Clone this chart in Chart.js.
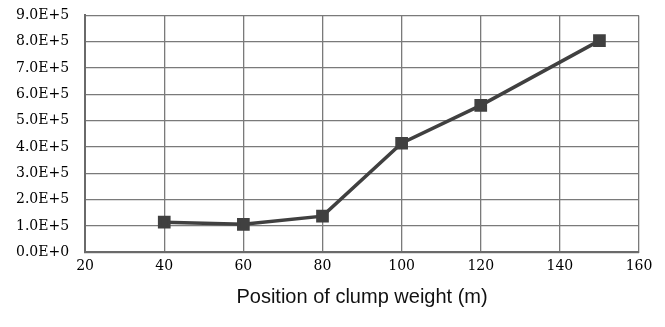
<!DOCTYPE html>
<html>
<head>
<meta charset="utf-8">
<script src="https://cdn.jsdelivr.net/npm/chart.js@4"></script>
<style>
html,body{margin:0;padding:0;background:#fff;}
#wrap{width:665px;height:327px;position:relative;overflow:hidden;}
#c{display:block;margin-top:-9px;}
</style>
</head>
<body>
<div id="wrap"><canvas id="c" width="665" height="336"></canvas></div>
<script>
const positions = [40, 60, 80, 100, 120, 150];
const tensionValues = [114000, 106000, 137000, 414000, 558000, 804000];
const xTicks = [20, 40, 60, 80, 100, 120, 140, 160];
const xAxisTitle = 'Position of clump weight (m)';

const points = positions.map((x, i) => ({x: x, y: tensionValues[i]}));

new Chart(document.getElementById('c'), {
  type: 'line',
  data: {
    datasets: [{
      data: points,
      borderColor: '#404040',
      backgroundColor: '#404040',
      borderWidth: 3.5,
      pointStyle: 'rect',
      pointRadius: 6.5,
      pointHoverRadius: 6.5,
      tension: 0,
      clip: false
    }]
  },
  options: {
    responsive: false,
    animation: false,
    layout: {autoPadding: false, padding: {top: 0, right: 26, left: 0, bottom: 18}},
    plugins: {legend: {display: false}, tooltip: {enabled: false}},
    scales: {
      x: {
        type: 'linear',
        min: 20, max: 160,
        afterBuildTicks: (ax) => { ax.ticks = xTicks.map(v => ({value: v})); },
        grid: {color: '#7a7a7a', lineWidth: 1.3, drawTicks: false},
        border: {color: '#6a6a6a', width: 2},
        ticks: {color: '#000', padding: 6, font: {family: 'DejaVu Serif', size: 14}, maxRotation: 0},
        title: {display: true, text: xAxisTitle, color: '#111', font: {family: 'Liberation Sans', size: 20}, padding: {top: 4, bottom: 0}}
      },
      y: {
        min: 0, max: 900000,
        ticks: {
          stepSize: 100000,
          color: '#000', padding: 16,
          font: {family: 'DejaVu Serif', size: 14},
          callback: (v) => Number(v).toExponential(1).toUpperCase()
        },
        grid: {color: '#7a7a7a', lineWidth: 1.3, drawTicks: false},
        border: {color: '#6a6a6a', width: 2}
      }
    }
  }
});
</script>
</body>
</html>
